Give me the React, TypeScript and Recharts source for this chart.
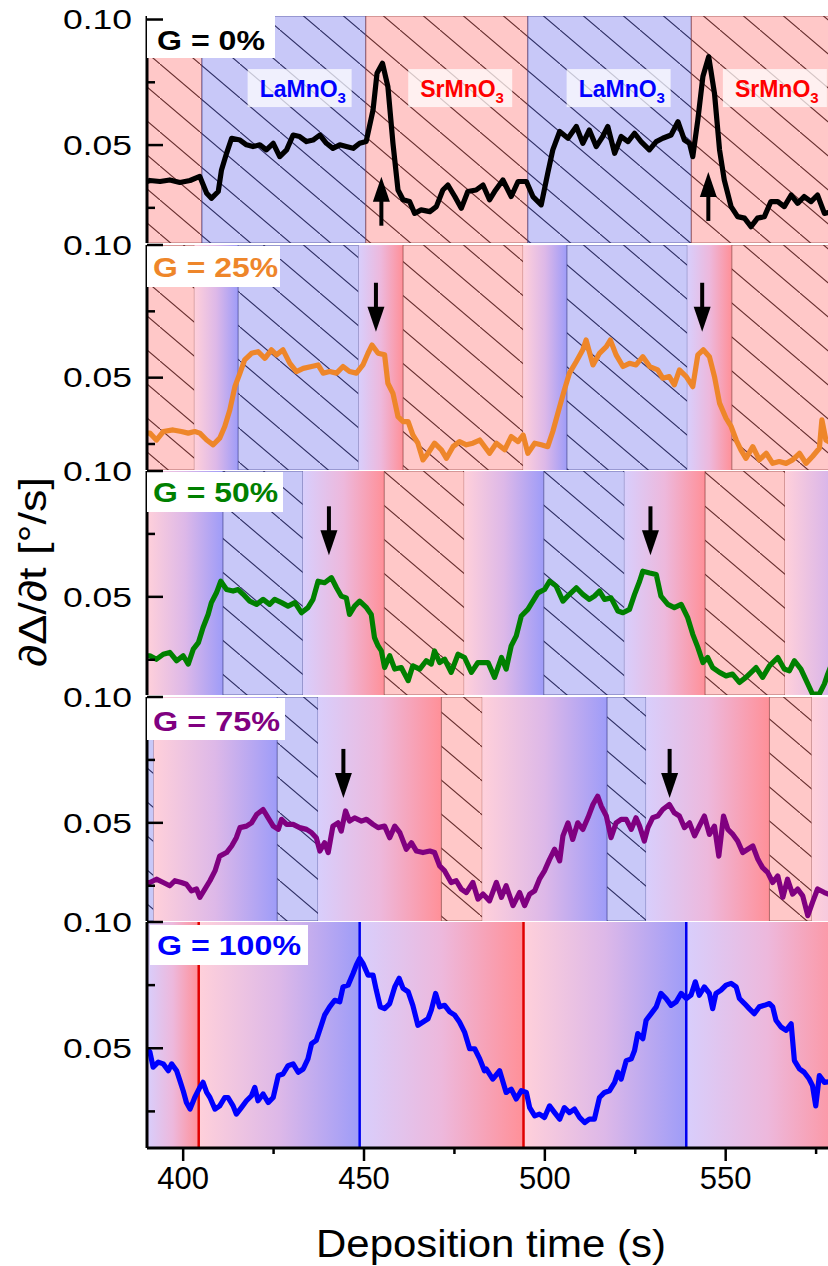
import React from 'react';
import {
  LineChart, Line, XAxis, YAxis, ReferenceArea, ReferenceLine, ReferenceDot,
} from 'recharts';

// ---- data (time in s, rate in °/s) ----
const xTicks = [400, 425, 450, 475, 500, 525, 550, 575];
const yTicks = [0.025, 0.05, 0.075, 0.1];

const g0: [number, number][] = [
  [390.0, 0.0355], [390.8, 0.0359], [393.6, 0.0355], [396.3, 0.0361], [399.1, 0.0351], [401.9, 0.0359],
  [404.6, 0.0375], [406.5, 0.0308], [407.8, 0.0288], [409.7, 0.0315], [410.6, 0.0401], [412.0, 0.0467],
  [413.4, 0.0527], [415.7, 0.052], [417.5, 0.0501], [419.3, 0.0494], [421.2, 0.0501], [423.0, 0.0481],
  [424.9, 0.0507], [426.7, 0.0454], [428.6, 0.0481], [430.4, 0.054], [432.2, 0.0534], [434.1, 0.0514],
  [435.9, 0.052], [437.8, 0.054], [439.6, 0.0507], [441.4, 0.0487], [443.3, 0.0501], [445.1, 0.0494],
  [447.0, 0.0487], [448.8, 0.0507], [450.6, 0.0514], [452.5, 0.064], [453.6, 0.0786], [455.1, 0.0826],
  [456.6, 0.0733], [458.0, 0.0507], [459.4, 0.0321], [460.8, 0.0282], [462.6, 0.0275], [464.0, 0.0228],
  [465.8, 0.0242], [468.2, 0.0235], [470.0, 0.0255], [471.8, 0.0321], [473.2, 0.0341], [475.1, 0.0295],
  [476.9, 0.0248], [478.7, 0.0315], [481.0, 0.0321], [482.9, 0.0341], [484.7, 0.0282], [486.1, 0.0315],
  [488.4, 0.0361], [490.7, 0.0295], [492.6, 0.0355], [494.9, 0.0355], [496.7, 0.0295], [499.0, 0.0262],
  [500.8, 0.0388], [502.2, 0.0481], [504.1, 0.0554], [506.4, 0.0527], [508.7, 0.0574], [510.5, 0.0507],
  [512.3, 0.056], [514.2, 0.0494], [516.0, 0.0534], [517.4, 0.0574], [519.3, 0.0467], [521.1, 0.0534],
  [523.0, 0.0514], [524.8, 0.0547], [526.6, 0.0514], [528.9, 0.0481], [530.8, 0.0514], [532.6, 0.0527],
  [534.9, 0.054], [536.8, 0.0593], [538.6, 0.052], [540.0, 0.0507], [540.9, 0.0454], [542.3, 0.06],
  [543.7, 0.0773], [545.3, 0.0852], [546.9, 0.0706], [548.3, 0.0481], [549.6, 0.0361], [551.5, 0.0255],
  [553.3, 0.0215], [555.2, 0.0209], [557.0, 0.0175], [558.8, 0.0209], [560.7, 0.0215], [562.5, 0.0275],
  [564.4, 0.0275], [566.2, 0.0255], [568.1, 0.0301], [569.9, 0.0268], [571.7, 0.0295], [573.6, 0.0275],
  [575.4, 0.0301], [577.3, 0.0228], [579.5, 0.0235], [581.0, 0.024],
];

const g25: [number, number][] = [
  [390.0, 0.0291], [390.8, 0.0291], [392.6, 0.0265], [394.5, 0.0297], [397.2, 0.0303], [399.5, 0.0297],
  [401.4, 0.0291], [403.2, 0.0297], [404.6, 0.0291], [406.5, 0.0265], [408.3, 0.0247], [410.1, 0.0272],
  [411.5, 0.0316], [412.9, 0.0378], [414.3, 0.0466], [415.7, 0.0517], [417.0, 0.0567], [418.9, 0.0592],
  [420.7, 0.0598], [422.6, 0.0573], [424.4, 0.0605], [425.8, 0.0586], [427.6, 0.0605], [429.5, 0.0554],
  [431.3, 0.0523], [433.2, 0.0535], [435.5, 0.0542], [437.3, 0.0548], [438.7, 0.0517], [440.5, 0.0523],
  [442.4, 0.0517], [444.2, 0.0542], [446.0, 0.0523], [447.9, 0.0517], [449.7, 0.0548], [451.1, 0.0592],
  [452.2, 0.0623], [453.9, 0.0592], [455.7, 0.0586], [456.6, 0.0479], [458.0, 0.0441], [459.4, 0.0353],
  [460.8, 0.0334], [462.2, 0.0334], [463.5, 0.0284], [464.9, 0.0253], [466.3, 0.019], [467.7, 0.0215],
  [469.5, 0.0253], [471.4, 0.0228], [472.8, 0.0196], [474.6, 0.024], [476.4, 0.0259], [478.3, 0.0247],
  [480.1, 0.0253], [482.0, 0.0265], [484.7, 0.0215], [486.6, 0.0253], [488.9, 0.0228], [490.7, 0.0278],
  [492.6, 0.0259], [494.0, 0.0284], [495.3, 0.0215], [497.2, 0.0253], [499.0, 0.0247], [500.8, 0.024],
  [502.2, 0.0297], [504.1, 0.0391], [505.4, 0.0454], [506.8, 0.0517], [508.7, 0.0561], [510.5, 0.0605],
  [511.4, 0.0642], [513.3, 0.0548], [515.1, 0.0592], [517.0, 0.0617], [518.1, 0.0642], [519.7, 0.0586],
  [521.6, 0.0542], [523.4, 0.0554], [525.2, 0.0548], [527.1, 0.0579], [529.0, 0.0542], [531.2, 0.0529],
  [532.6, 0.0498], [534.4, 0.0504], [535.8, 0.0473], [537.2, 0.0529], [539.1, 0.0504], [540.9, 0.0466],
  [542.3, 0.0586], [543.8, 0.0605], [545.5, 0.0579], [546.9, 0.0504], [548.3, 0.0404], [550.1, 0.0347],
  [551.5, 0.0316], [552.9, 0.0265], [554.2, 0.0228], [555.6, 0.0196], [557.5, 0.024], [559.3, 0.019],
  [561.2, 0.0215], [563.0, 0.0177], [564.8, 0.0184], [566.7, 0.0177], [568.5, 0.019], [570.4, 0.0215],
  [572.2, 0.0177], [574.0, 0.0203], [575.9, 0.0234], [576.6, 0.0341], [577.7, 0.0265], [579.5, 0.025],
  [581.0, 0.025],
];

const g50: [number, number][] = [
  [390.0, 0.0266], [390.8, 0.0266], [392.6, 0.0252], [394.5, 0.0272], [396.3, 0.0279], [398.2, 0.0246],
  [400.0, 0.0266], [401.4, 0.0233], [402.8, 0.0292], [404.2, 0.0318], [405.5, 0.0378], [406.9, 0.043],
  [407.8, 0.0477], [409.2, 0.0516], [410.4, 0.0562], [412.0, 0.0529], [413.8, 0.0523], [415.2, 0.0529],
  [416.6, 0.051], [418.4, 0.0483], [420.3, 0.047], [422.1, 0.049], [423.9, 0.047], [425.3, 0.049],
  [427.2, 0.0477], [429.0, 0.0463], [430.9, 0.0477], [432.7, 0.0437], [434.5, 0.0457], [435.9, 0.049],
  [437.3, 0.0562], [439.1, 0.0556], [441.0, 0.0576], [442.4, 0.0536], [443.7, 0.0503], [445.1, 0.0496],
  [446.0, 0.043], [447.4, 0.0463], [448.8, 0.0483], [450.7, 0.0457], [452.0, 0.043], [452.9, 0.0338],
  [453.9, 0.0305], [454.8, 0.0285], [455.7, 0.0219], [457.1, 0.0266], [458.5, 0.0213], [460.3, 0.0219],
  [462.2, 0.0167], [463.5, 0.0226], [465.4, 0.0213], [467.2, 0.0246], [468.6, 0.0233], [469.5, 0.0285],
  [470.9, 0.0239], [472.3, 0.0252], [474.1, 0.02], [476.0, 0.0272], [477.8, 0.0259], [479.7, 0.02],
  [481.5, 0.0239], [484.3, 0.0239], [486.1, 0.018], [488.0, 0.0259], [489.3, 0.0213], [490.7, 0.0305],
  [492.1, 0.0345], [493.5, 0.0424], [495.3, 0.045], [496.7, 0.0483], [498.1, 0.0516], [499.9, 0.0529],
  [501.3, 0.0562], [503.1, 0.0543], [505.0, 0.0483], [506.8, 0.051], [508.7, 0.0536], [510.5, 0.051],
  [512.3, 0.049], [513.7, 0.0503], [515.1, 0.0523], [516.5, 0.049], [518.3, 0.0496], [520.2, 0.0444],
  [521.6, 0.0437], [523.4, 0.045], [524.8, 0.051], [526.2, 0.0562], [527.1, 0.0602], [529.0, 0.0595],
  [530.8, 0.0589], [532.1, 0.0503], [534.0, 0.047], [535.8, 0.0457], [537.7, 0.047], [539.5, 0.0417],
  [540.9, 0.0351], [542.3, 0.0299], [543.7, 0.0239], [545.0, 0.0259], [546.4, 0.0219], [548.3, 0.02],
  [550.1, 0.0186], [551.9, 0.0193], [553.8, 0.016], [555.6, 0.018], [558.4, 0.0219], [560.2, 0.018],
  [562.1, 0.0226], [564.4, 0.0259], [566.2, 0.0213], [567.6, 0.0206], [569.0, 0.0246], [570.8, 0.0213],
  [572.7, 0.0154], [574.0, 0.0114], [575.9, 0.0114], [577.3, 0.0154], [578.2, 0.0193], [579.5, 0.024],
  [581.0, 0.027],
];

const g75: [number, number][] = [
  [390.0, 0.0263], [390.8, 0.0263], [392.6, 0.0276], [394.5, 0.0263], [396.3, 0.025], [397.7, 0.027],
  [399.5, 0.0263], [400.9, 0.0256], [402.3, 0.023], [403.7, 0.0237], [404.6, 0.0204], [406.0, 0.0237],
  [407.4, 0.027], [408.8, 0.0309], [410.1, 0.0368], [412.0, 0.0382], [413.4, 0.0408], [414.7, 0.0441],
  [415.7, 0.0481], [417.5, 0.0487], [418.9, 0.05], [420.3, 0.0533], [422.1, 0.0553], [423.5, 0.052],
  [424.9, 0.0487], [426.3, 0.0474], [427.2, 0.0514], [428.6, 0.0494], [430.4, 0.0494], [432.2, 0.0481],
  [434.1, 0.0474], [435.5, 0.0461], [436.8, 0.0441], [437.8, 0.0388], [439.1, 0.0421], [440.1, 0.0382],
  [441.4, 0.0487], [442.8, 0.05], [443.7, 0.0467], [444.9, 0.0547], [446.0, 0.0507], [447.4, 0.052],
  [449.3, 0.0507], [450.7, 0.0514], [452.5, 0.0494], [453.9, 0.0481], [455.7, 0.0487], [457.1, 0.0441],
  [458.5, 0.0487], [459.9, 0.0461], [461.7, 0.0395], [463.1, 0.0421], [464.5, 0.0388], [466.3, 0.0382],
  [468.2, 0.0388], [469.5, 0.0382], [470.9, 0.0329], [472.3, 0.0309], [474.1, 0.0263], [475.5, 0.027],
  [476.9, 0.0237], [478.3, 0.0223], [480.1, 0.0263], [481.5, 0.0197], [482.9, 0.0217], [484.7, 0.019],
  [486.6, 0.0263], [488.0, 0.0204], [489.3, 0.025], [491.2, 0.0171], [493.0, 0.0223], [494.4, 0.0171],
  [495.8, 0.0217], [497.2, 0.023], [498.5, 0.0276], [499.9, 0.0309], [501.3, 0.0355], [502.7, 0.0395],
  [504.1, 0.0349], [505.0, 0.0448], [506.4, 0.05], [507.7, 0.0434], [509.1, 0.05], [510.5, 0.0474],
  [511.9, 0.052], [513.3, 0.0573], [514.6, 0.0606], [515.6, 0.0566], [517.0, 0.0527], [518.3, 0.0441],
  [519.7, 0.05], [521.1, 0.0514], [522.5, 0.0514], [523.9, 0.0474], [525.2, 0.052], [526.2, 0.0487],
  [527.5, 0.0428], [528.5, 0.0481], [529.8, 0.052], [531.2, 0.0527], [532.6, 0.0553], [534.4, 0.0573],
  [535.8, 0.054], [537.2, 0.0527], [538.6, 0.0481], [540.0, 0.05], [541.4, 0.0448], [542.7, 0.0487],
  [544.1, 0.0527], [545.5, 0.0454], [546.9, 0.0487], [548.1, 0.0368], [549.4, 0.0527], [550.6, 0.0474],
  [552.0, 0.0454], [553.3, 0.0428], [554.7, 0.0382], [556.1, 0.0395], [557.5, 0.0408], [558.9, 0.0355],
  [560.2, 0.0322], [561.6, 0.0303], [563.0, 0.0263], [564.4, 0.0289], [565.8, 0.0204], [567.1, 0.0276],
  [568.5, 0.0217], [569.9, 0.0237], [571.3, 0.021], [572.7, 0.0131], [574.0, 0.0184], [575.4, 0.0237],
  [577.3, 0.0223], [579.5, 0.021], [581.0, 0.022],
];

const g100: [number, number][] = [
  [390.0, 0.0498], [390.8, 0.0485], [391.7, 0.0425], [393.1, 0.0445], [394.5, 0.0438], [395.9, 0.0411],
  [396.8, 0.0438], [398.2, 0.0411], [399.1, 0.0372], [400.0, 0.0332], [400.9, 0.0285], [401.9, 0.0259],
  [403.2, 0.0305], [404.6, 0.0345], [405.5, 0.0365], [406.5, 0.0325], [407.4, 0.0305], [408.8, 0.0259],
  [410.1, 0.0272], [411.5, 0.0305], [412.4, 0.0305], [413.8, 0.0272], [414.7, 0.0239], [416.1, 0.0265],
  [417.5, 0.0292], [418.9, 0.0312], [419.8, 0.0345], [420.7, 0.0292], [422.1, 0.0319], [423.5, 0.0285],
  [424.9, 0.0305], [426.3, 0.0392], [427.6, 0.0398], [429.0, 0.0431], [430.4, 0.0438], [431.8, 0.0405],
  [433.2, 0.0418], [434.5, 0.0458], [435.5, 0.0518], [436.8, 0.0531], [438.2, 0.0591], [439.1, 0.0631],
  [440.5, 0.0664], [441.9, 0.069], [443.3, 0.0684], [444.2, 0.0743], [445.6, 0.075], [447.0, 0.0797],
  [447.9, 0.083], [448.8, 0.0856], [449.7, 0.0836], [451.1, 0.079], [452.5, 0.079], [453.4, 0.073],
  [454.5, 0.0664], [455.7, 0.0657], [457.1, 0.0677], [458.5, 0.0743], [459.7, 0.0777], [460.8, 0.0737],
  [462.2, 0.0724], [463.5, 0.067], [464.9, 0.0591], [466.3, 0.0604], [467.7, 0.0617], [468.6, 0.0651],
  [469.8, 0.0717], [470.9, 0.0664], [472.3, 0.067], [473.7, 0.0644], [475.1, 0.0631], [476.4, 0.0604],
  [477.8, 0.0564], [479.2, 0.0498], [480.6, 0.0498], [482.0, 0.0458], [483.3, 0.0411], [483.8, 0.0418],
  [485.6, 0.0378], [487.5, 0.0411], [489.3, 0.0325], [490.7, 0.0338], [492.1, 0.0299], [493.5, 0.0332],
  [494.9, 0.0325], [495.8, 0.0265], [497.2, 0.0232], [498.5, 0.0239], [499.9, 0.0226], [501.3, 0.0272],
  [502.7, 0.0245], [504.1, 0.0219], [505.4, 0.0265], [506.8, 0.0245], [508.2, 0.0259], [509.6, 0.0226],
  [511.0, 0.0206], [512.3, 0.0219], [513.7, 0.0219], [515.1, 0.0305], [516.5, 0.0325], [517.9, 0.0332],
  [519.3, 0.0365], [520.2, 0.0405], [521.1, 0.0378], [522.5, 0.0451], [523.9, 0.0458], [524.8, 0.0491],
  [525.7, 0.0558], [527.1, 0.0538], [528.0, 0.0611], [529.4, 0.0637], [530.8, 0.0664], [532.1, 0.0717],
  [533.5, 0.0697], [534.9, 0.067], [536.3, 0.0684], [537.7, 0.0717], [539.1, 0.0697], [540.4, 0.071],
  [541.6, 0.0763], [542.7, 0.071], [544.1, 0.0743], [545.5, 0.0717], [546.4, 0.0657], [547.3, 0.0717],
  [548.7, 0.073], [550.1, 0.075], [551.5, 0.0757], [552.9, 0.0743], [553.8, 0.0697], [555.2, 0.0677],
  [556.5, 0.0657], [557.9, 0.0637], [559.3, 0.0664], [560.7, 0.067], [562.1, 0.0677], [563.0, 0.0664],
  [563.9, 0.0611], [565.3, 0.0584], [566.7, 0.0571], [568.1, 0.0597], [569.0, 0.0451], [570.4, 0.0418],
  [571.7, 0.0405], [573.1, 0.0378], [574.0, 0.0352], [574.9, 0.0272], [575.9, 0.0392], [577.3, 0.0365],
  [579.5, 0.037], [581.0, 0.037],
];

// deposition phases per panel: [start, end, kind]
// ph = SrMnO3 hatched, bh = LaMnO3 hatched, gb = graded towards LaMnO3, gr = graded towards SrMnO3
const phases0 = [[390, 405.2, 'ph'], [405.2, 450.5, 'bh'], [450.5, 495.3, 'ph'], [495.3, 540.5, 'bh'], [540.5, 590, 'ph']];
const phases25 = [[390, 403.1, 'ph'], [403.1, 415.2, 'gb'], [415.2, 448.5, 'bh'], [448.5, 460.8, 'gr'], [460.8, 494.0, 'ph'],
  [494.0, 506.1, 'gb'], [506.1, 539.4, 'bh'], [539.4, 551.7, 'gr'], [551.7, 590, 'ph']];
const phases50 = [[390, 411.0, 'gb'], [411.0, 433.1, 'bh'], [433.1, 455.6, 'gr'], [455.6, 477.7, 'ph'], [477.7, 499.7, 'gb'],
  [499.7, 522.0, 'bh'], [522.0, 544.3, 'gr'], [544.3, 566.4, 'ph'], [566.4, 588.6, 'gb']];
const phases75 = [[390, 391.8, 'bh'], [391.8, 426.0, 'gb'], [426.0, 437.3, 'bh'], [437.3, 471.4, 'gr'], [471.4, 482.7, 'ph'],
  [482.7, 517.2, 'gb'], [517.2, 528.0, 'bh'], [528.0, 562.1, 'gr'], [562.1, 573.8, 'ph'], [573.8, 608, 'gb']];
const phases100 = [[390, 404.3, 'gr'], [404.3, 448.8, 'gb'], [448.8, 494.1, 'gr'], [494.1, 539.1, 'gb'], [539.1, 584, 'gr']];

const redMarks100 = [404.3, 494.1];
const blueMarks100 = [448.8, 539.1];

// arrows: [time, tip value]
const arrows0 = [[454.8, 0.0374], [545.2, 0.0393]];
const arrows25 = [[453.3, 0.0673], [543.5, 0.0673]];
const arrows50 = [[440.3, 0.0665], [529.2, 0.0665]];
const arrows75 = [[444.3, 0.0599], [534.5, 0.0599]];

const tagTimes = [432.2, 476.6, 520.4, 563.6];
const tagNames = ['LaMnO', 'SrMnO', 'LaMnO', 'SrMnO'];
const tagValue = 0.0727;

// ---- layout ----
const X_DOMAIN: [number, number] = [390, 580.5];
const PLOT_L = 147;
const PLOT_R = 836;
const CHART_W = 850;
const MT = 20;
const FONT = '"Liberation Sans", Arial, sans-serif';

const panels = [
  { top: 16, h: 227, yDomain: [0.011, 0.1014], color: '#000000', series: g0, phases: phases0, arrows: arrows0, dir: 'up',
    label: 'G = 0%', box: { dx: 0, dy: 0, w: 128, h: 42, tx: 10, ty: 34, tl: 108 } },
  { top: 245, h: 225, yDomain: [0.0152, 0.1], color: '#EE862A', series: g25, phases: phases25, arrows: arrows25, dir: 'down',
    label: 'G = 25%', box: { dx: 0, dy: 1, w: 133, h: 41, tx: 6, ty: 32, tl: 125 } },
  { top: 471, h: 224, yDomain: [0.011, 0.1], color: '#008000', series: g50, phases: phases50, arrows: arrows50, dir: 'down',
    label: 'G = 50%', box: { dx: 0, dy: 1, w: 136, h: 40, tx: 6, ty: 31, tl: 125 } },
  { top: 697, h: 224, yDomain: [0.011, 0.1], color: '#800080', series: g75, phases: phases75, arrows: arrows75, dir: 'down',
    label: 'G = 75%', box: { dx: 0, dy: 1, w: 138, h: 42, tx: 6, ty: 34, tl: 127 } },
  { top: 922, h: 226, yDomain: [0.0105, 0.1], color: '#0000FF', series: g100, phases: phases100, arrows: [], dir: 'down',
    label: 'G = 100%', box: { dx: 3, dy: 3, w: 158, h: 40, tx: 10, ty: 33, tl: 144 } },
];

const near = (a: number, b: number) => Math.abs(a - b) < 1e-6;

const YTick = ({ x, y, payload }: any) => {
  const major = near(payload.value, 0.05) || near(payload.value, 0.1);
  return (
    <g>
      <line x1={x} x2={x + (major ? 16 : 8)} y1={y} y2={y} stroke="#000" strokeWidth={2.5} />
      {major && (
        <text x={x - 15} y={y} dy="0.36em" textAnchor="end" fontFamily={FONT}
          fontSize={27} textLength={69} lengthAdjust="spacingAndGlyphs" fill="#000">
          {payload.value.toFixed(2)}
        </text>
      )}
    </g>
  );
};

const TopTick = ({ x, y, payload }: any) => {
  const major = payload.value % 50 === 0;
  return <line x1={x} x2={x} y1={y} y2={y + (major ? 11 : 6)} stroke="#000" strokeWidth={2.5} />;
};

const BottomTick = ({ x, y, payload }: any) => {
  const major = payload.value % 50 === 0;
  return (
    <g>
      <line x1={x} x2={x} y1={y} y2={y + (major ? 13 : 6)} stroke="#000" strokeWidth={2.5} />
      {major && (
        <text x={x} y={y + 41} textAnchor="middle" fontFamily={FONT} fontSize={31} fill="#000">
          {payload.value}
        </text>
      )}
    </g>
  );
};

const arrowShape = (dir: string) => ({ cx, cy }: any) => {
  const L = 49, HL = 25, HW = 8.5, SW = 2;
  if (dir === 'up') {
    return (
      <g>
        <rect x={cx - SW} y={cy + HL - 1} width={SW * 2} height={L - HL + 1} fill="#000" />
        <path d={`M${cx - HW},${cy + HL} L${cx + HW},${cy + HL} L${cx},${cy} Z`} fill="#000" />
      </g>
    );
  }
  return (
    <g>
      <rect x={cx - SW} y={cy - L} width={SW * 2} height={L - HL + 1} fill="#000" />
      <path d={`M${cx - HW},${cy - HL} L${cx + HW},${cy - HL} L${cx},${cy} Z`} fill="#000" />
    </g>
  );
};

const tagShape = (name: string) => ({ cx, cy }: any) => {
  const color = name === 'LaMnO' ? '#0000FF' : '#FF0000';
  return (
    <g>
      <rect x={cx - 52} y={cy - 19} width={104} height={38} fill="#fff" fillOpacity={0.72} />
      <text x={cx - 40} y={cy + 9} fill={color} fontFamily={FONT} fontWeight="bold" fontSize={23}>
        {name}<tspan fontSize={15} dy={6}>3</tspan>
      </text>
    </g>
  );
};

const labelShape = (text: string, color: string, b: any) => ({ cx, cy }: any) => (
  <g>
    <rect x={cx + b.dx} y={cy + b.dy} width={b.w} height={b.h} fill="#fff" />
    <text x={cx + b.tx} y={cy + b.ty} fill={color} fontFamily={FONT} fontWeight="bold" fontSize={27}
      textLength={b.tl} lengthAdjust="spacingAndGlyphs">{text}</text>
  </g>
);

function Panel({ p, i, last }: { p: any; i: number; last: boolean }) {
  const MB = last ? 0 : 10;
  const bottomH = last ? 75 : 0;
  const rows = p.series.map(([t, v]: [number, number]) => ({ t, v }));
  const fillFor = (k: string) => `url(#${k}${i})`;
  const strokeFor = (k: string) => (k === 'ph' ? '#7a2a2a' : k === 'bh' ? '#2a2a7a' : 'none');
  return (
    <div style={{ position: 'absolute', left: 0, top: p.top - MT }}>
      <LineChart width={CHART_W} height={p.h + MT + MB + bottomH} data={rows}
        margin={{ top: MT, right: CHART_W - PLOT_R, bottom: MB, left: 0 }}>
        <defs>
          <pattern id={`ph${i}`} patternUnits="userSpaceOnUse" width={40} height={34}>
            <rect width={40} height={34} fill="#FFC8C8" />
            <path d="M-4,-3.4 L44,37.4" stroke="#4a1010" strokeOpacity={0.85} strokeWidth={1.1} />
          </pattern>
          <pattern id={`bh${i}`} patternUnits="userSpaceOnUse" width={40} height={34}>
            <rect width={40} height={34} fill="#C8C8F8" />
            <path d="M-4,-3.4 L44,37.4" stroke="#101048" strokeOpacity={0.85} strokeWidth={1.1} />
          </pattern>
          <linearGradient id={`gb${i}`} x1="0" y1="0" x2="1" y2="0">
            <stop offset="0" stopColor="#FFD0DA" />
            <stop offset="0.5" stopColor="#DDB8E8" />
            <stop offset="1" stopColor="#9E9CF8" />
          </linearGradient>
          <linearGradient id={`gr${i}`} x1="0" y1="0" x2="1" y2="0">
            <stop offset="0" stopColor="#D8CEFC" />
            <stop offset="0.5" stopColor="#EDB8DC" />
            <stop offset="1" stopColor="#FF9098" />
          </linearGradient>
        </defs>
        {p.phases.map(([a, b, k]: any, j: number) => (
          <ReferenceArea key={`a${j}`} x1={a} x2={b} fill={fillFor(k)} fillOpacity={1}
            stroke={strokeFor(k)} strokeWidth={1} strokeOpacity={0.6} ifOverflow="hidden" />
        ))}
        {last && redMarks100.map((t, j) => (
          <ReferenceLine key={`r${j}`} x={t} stroke="#E00000" strokeWidth={2.5} />
        ))}
        {last && blueMarks100.map((t, j) => (
          <ReferenceLine key={`b${j}`} x={t} stroke="#0000F0" strokeWidth={2.5} />
        ))}
        <Line type="linear" dataKey="v" stroke={p.color} strokeWidth={5.2} dot={false}
          isAnimationActive={false} strokeLinejoin="round" />
        {p.arrows.map(([t, v]: number[], j: number) => (
          <ReferenceDot key={`ar${j}`} x={t} y={v} r={0} ifOverflow="visible" shape={arrowShape(p.dir)} />
        ))}
        {i === 0 && tagTimes.map((t, j) => (
          <ReferenceDot key={`tg${j}`} x={t} y={tagValue} r={0} ifOverflow="visible" shape={tagShape(tagNames[j])} />
        ))}
        <ReferenceDot x={X_DOMAIN[0]} y={p.yDomain[1]} r={0} ifOverflow="visible"
          shape={labelShape(p.label, p.color, p.box)} />
        <XAxis dataKey="t" type="number" domain={X_DOMAIN} allowDataOverflow ticks={xTicks}
          interval={0} height={bottomH} tickSize={0} tickMargin={0} tickLine={false}
          tick={last ? BottomTick : false} axisLine={{ stroke: '#000', strokeWidth: 3 }} />
        <XAxis xAxisId="top" orientation="top" dataKey="t" type="number" domain={X_DOMAIN} allowDataOverflow
          ticks={xTicks} interval={0} height={0} tickSize={0} tickMargin={0} tickLine={false}
          tick={TopTick} axisLine={{ stroke: '#000', strokeWidth: 3 }} />
        <YAxis type="number" domain={p.yDomain} allowDataOverflow ticks={yTicks} interval={0}
          width={PLOT_L} tickSize={0} tickMargin={0} tickLine={false} tick={YTick}
          axisLine={{ stroke: '#000', strokeWidth: 3 }} />
      </LineChart>
    </div>
  );
}

export default function App() {
  return (
    <div style={{ position: 'absolute', left: 0, top: 0, width: 828, height: 1266, overflow: 'hidden', background: '#fff' }}>
      {panels.map((p, i) => (
        <Panel key={i} p={p} i={i} last={i === panels.length - 1} />
      ))}
      <svg width={828} height={1266} style={{ position: 'absolute', left: 0, top: 0, pointerEvents: 'none' }}>
        <text transform="translate(46,572) rotate(-90)" textAnchor="middle" fontFamily={FONT} fontSize={38}
          textLength={190} lengthAdjust="spacingAndGlyphs" fill="#000">
          ∂Δ/∂t [°/s]
        </text>
        <text x={491} y={1257} textAnchor="middle" fontFamily={FONT} fontSize={38}
          textLength={350} lengthAdjust="spacingAndGlyphs" fill="#000">
          Deposition time (s)
        </text>
      </svg>
    </div>
  );
}
